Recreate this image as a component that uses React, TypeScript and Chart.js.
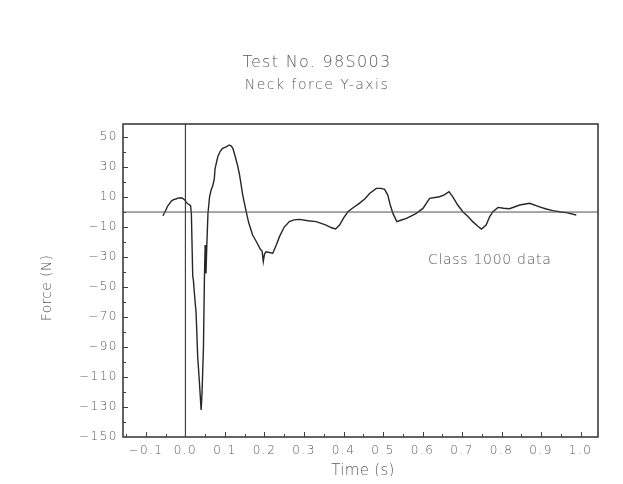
import React, { useEffect, useRef } from 'react';
import { Chart, registerables } from 'chart.js';

Chart.register(...registerables);

const titleText = 'Test No. 98S003';
const subtitleText = 'Neck force Y-axis';
const xTitle = 'Time (s)';
const yTitle = 'Force (N)';
const noteText = 'Class 1000 data';

// Neck force trace (time in s, force in N)
const timeS = [
  -0.057, -0.05, -0.045, -0.04, -0.035, -0.03, -0.024, -0.019, -0.011, -0.006, 0.0, 0.002, 0.006, 0.01, 0.013,
  0.015, 0.0185, 0.02, 0.022, 0.027, 0.031, 0.035, 0.0397, 0.042, 0.0456, 0.048, 0.0499, 0.052, 0.054, 0.057,
  0.061, 0.065, 0.069, 0.073, 0.075, 0.082, 0.088, 0.094, 0.103, 0.111, 0.116, 0.12, 0.126, 0.132, 0.137,
  0.145, 0.154, 0.16, 0.17, 0.18, 0.19, 0.194, 0.197, 0.2, 0.204, 0.212, 0.221, 0.23, 0.238, 0.25,
  0.263, 0.275, 0.289, 0.31, 0.331, 0.356, 0.37, 0.38, 0.39, 0.4, 0.411, 0.425, 0.44, 0.455, 0.466,
  0.483, 0.495, 0.504, 0.512, 0.518, 0.525, 0.535, 0.545, 0.559, 0.572, 0.584, 0.601, 0.61, 0.618, 0.643,
  0.655, 0.667, 0.677, 0.689, 0.702, 0.715, 0.727, 0.74, 0.749, 0.761, 0.77, 0.778, 0.791, 0.805, 0.82,
  0.846, 0.871, 0.896, 0.913, 0.93, 0.95, 0.964, 0.989,
];
const forceN = [
  -2.5, 1, 4, 5.8, 7.5, 8.3, 8.7, 9.3, 9.5, 9, 7.5, 6.4, 5.5, 4.7, 4.3,
  -1, -43, -45, -52, -67.5, -96.5, -112, -132, -121, -90, -45, -22, -41, -23, -1,
  10, 14.7, 17.5, 22, 29, 37, 40.5, 42.5, 43.5, 44.7, 44, 42.5, 37, 31, 24.7,
  11.3, 0, -7, -15.3, -20, -25, -26, -33, -28, -26.5, -27, -27.5, -22, -16.4, -10,
  -6.4, -5.2, -4.9, -5.8, -6.4, -8.7, -10.5, -11.3, -8.7, -4, 0.2, 3, 5.8, 9, 12.4,
  15.8, 15.8, 15.1, 11.3, 5, -0.9, -6.4, -5.5, -4.2, -2.5, -0.9, 2.4, 6, 9.1, 10.2,
  11.5, 13.6, 10, 4.7, 0.2, -3, -6.4, -9.5, -11.3, -8.7, -3, 0.2, 3.1, 2.5, 2.2,
  4.7, 5.8, 3.5, 2, 0.9, 0, -0.4, -2,
];

const xTicks = [-0.1, 0.0, 0.1, 0.2, 0.3, 0.4, 0.5, 0.6, 0.7, 0.8, 0.9, 1.0];
const yTicks = [-150, -130, -110, -90, -70, -50, -30, -10, 10, 30, 50];
const zeroTime = [0];
const zeroForce = [0];
const noteAt = [0.77, -32];

const X_MIN = -0.158;
const X_MAX = 1.044;
const Y_MIN = -150;
const Y_MAX = 58.7;

const TEXT_COLOR = '#5a5a5a';
const FONT = '"DejaVu Sans", "Liberation Sans", sans-serif';

const minus = (s: string) => s.replace('-', '\u2212');

const framePlugin = {
  id: 'framePlugin',
  beforeDraw(chart: any) {
    chart.ctx.letterSpacing = '1.5px';
  },
  afterDraw(chart: any) {
    const { ctx, chartArea: a, scales } = chart;
    const xs = scales.x;
    const ys = scales.y;
    ctx.save();
    ctx.letterSpacing = '0px';
    // frame
    ctx.strokeStyle = '#303030';
    ctx.lineWidth = 1.5;
    ctx.strokeRect(a.left, a.top, a.right - a.left, a.bottom - a.top);

    // inward ticks (major + minor)
    ctx.lineWidth = 1;
    ctx.strokeStyle = '#404040';
    const xStep = xTicks[1] - xTicks[0];
    const xAll: Array<[number, number]> = [];
    xTicks.forEach((v) => xAll.push([v, 5]));
    xTicks.forEach((v) => xAll.push([v + xStep / 2, 3]));
    xAll.push([xTicks[0] - xStep / 2, 3]);
    xAll.forEach(([v, len]) => {
      if (v <= X_MIN || v >= X_MAX) return;
      const px = Math.round(xs.getPixelForValue(v)) + 0.5;
      ctx.beginPath();
      ctx.moveTo(px, a.bottom);
      ctx.lineTo(px, a.bottom - len);
      ctx.stroke();
    });
    const yStep = yTicks[1] - yTicks[0];
    const yAll: Array<[number, number]> = [];
    yTicks.forEach((v) => yAll.push([v, 5]));
    yTicks.forEach((v) => yAll.push([v + yStep / 2, 3]));
    yAll.forEach(([v, len]) => {
      if (v <= Y_MIN || v >= Y_MAX) return;
      const py = Math.round(ys.getPixelForValue(v)) + 0.5;
      ctx.beginPath();
      ctx.moveTo(a.left, py);
      ctx.lineTo(a.left + len, py);
      ctx.stroke();
    });

    // texts
    ctx.fillStyle = TEXT_COLOR;
    ctx.textAlign = 'center';
    ctx.textBaseline = 'middle';

    ctx.letterSpacing = '1.3px';
    ctx.font = `200 16px ${FONT}`;
    ctx.fillText(titleText, 309, 55);

    ctx.letterSpacing = '1.5px';
    ctx.font = `200 14px ${FONT}`;
    ctx.fillText(subtitleText, 309, 77);

    ctx.letterSpacing = '0.7px';
    ctx.font = `200 14px ${FONT}`;
    ctx.fillText(noteText, xs.getPixelForValue(noteAt[0]), ys.getPixelForValue(noteAt[1]));

    ctx.letterSpacing = '0.3px';
    ctx.font = `200 15px ${FONT}`;
    ctx.fillText(xTitle, 355, 463);

    ctx.save();
    ctx.translate(39, 280);
    ctx.rotate(-Math.PI / 2);
    ctx.font = `200 14px ${FONT}`;
    ctx.fillText(yTitle, 0, 0);
    ctx.restore();

    ctx.restore();
  },
};

export default function App() {
  const canvasRef = useRef<HTMLCanvasElement | null>(null);

  useEffect(() => {
    if (!canvasRef.current) return;
    const trace = timeS.map((t, i) => ({ x: t, y: forceN[i] }));
    const hLine = zeroForce.flatMap((f) => [
      { x: X_MIN, y: f },
      { x: X_MAX, y: f },
    ]);
    const vLine = zeroTime.flatMap((t) => [
      { x: t, y: Y_MAX },
      { x: t, y: Y_MIN },
    ]);
    const chart = new Chart(canvasRef.current, {
      type: 'line',
      data: {
        datasets: [
          {
            data: hLine,
            borderColor: '#505050',
            borderWidth: 1,
            pointRadius: 0,
            tension: 0,
          },
          {
            data: vLine,
            borderColor: '#404040',
            borderWidth: 1,
            pointRadius: 0,
            tension: 0,
          },
          {
            data: trace,
            borderColor: '#262626',
            borderWidth: 1.4,
            pointRadius: 0,
            tension: 0,
          },
        ],
      },
      options: {
        animation: false,
        responsive: true,
        maintainAspectRatio: false,
        layout: { padding: { top: 116, right: 17, left: 0, bottom: 0 } },
        plugins: {
          legend: { display: false },
          title: { display: false },
          tooltip: { enabled: false },
        },
        scales: {
          x: {
            type: 'linear',
            min: X_MIN,
            max: X_MAX,
            grid: { display: false, drawTicks: false },
            border: { display: false },
            afterFit: (s: any) => {
              s.height = 39;
            },
            afterBuildTicks: (s: any) => {
              s.ticks = xTicks.map((v) => ({ value: v }));
            },
            ticks: {
              padding: 7,
              color: TEXT_COLOR,
              font: { family: FONT, size: 12, weight: '200' as any },
              maxRotation: 0,
              autoSkip: false,
              callback: (v: any) => minus(Number(v).toFixed(1)),
            },
          },
          y: {
            type: 'linear',
            min: Y_MIN,
            max: Y_MAX,
            grid: { display: false, drawTicks: false },
            border: { display: false },
            afterFit: (s: any) => {
              s.width = 115;
            },
            afterBuildTicks: (s: any) => {
              s.ticks = yTicks.map((v) => ({ value: v }));
            },
            ticks: {
              padding: 5,
              color: TEXT_COLOR,
              font: { family: FONT, size: 12, weight: '200' as any },
              autoSkip: false,
              callback: (v: any) => minus(String(v)),
            },
          },
        },
      },
      plugins: [framePlugin],
    });
    return () => chart.destroy();
  }, []);

  return (
    <div style={{ position: 'relative', width: '607px', height: '468px' }}>
      <canvas ref={canvasRef} />
    </div>
  );
}
